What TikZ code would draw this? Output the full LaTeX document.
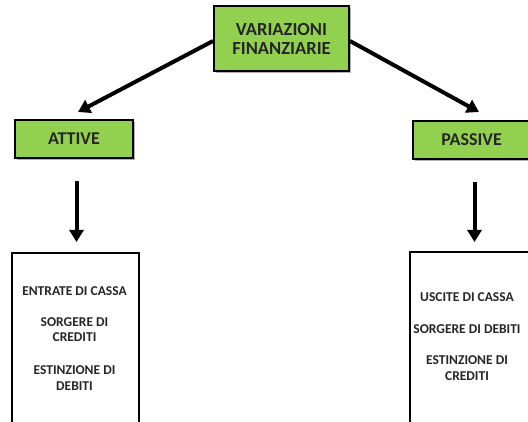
\documentclass[tikz,border=0pt]{standalone}
\usepackage{fontspec}
\setmainfont{Carlito}
\usetikzlibrary{arrows.meta}
\definecolor{boxgreen}{HTML}{92D050}
\tikzset{
  x=1pt, y=-1pt,
  greenbox/.style={draw=black, line width=2pt, fill=boxgreen, inner sep=0pt,
    font=\bfseries\fontsize{18}{21}\selectfont, align=center, text=black!85},
  listbox/.style={draw=black, line width=1.8pt, fill=white, inner sep=0pt},
  item/.style={font=\bfseries\fontsize{13.5}{15.5}\selectfont, align=center, text=black!85},
  arr/.style={line width=4pt, -{Triangle[length=12pt,width=14pt]}}
}
\begin{document}
\begin{tikzpicture}
\useasboundingbox (0,0) rectangle (528,422);
\begin{scope}
\clip (0,0) rectangle (528,422);
% top node
\fill[black!30] (216,8) rectangle (351,73);
\node[greenbox, minimum width=135pt, minimum height=65pt, font=\bfseries\fontsize{18.5}{19}\selectfont]
  (top) at (281.5,38.5) {VARIAZIONI\\FINANZIARIE};
% second row
\fill[black!30] (17,122) rectangle (135,160);
\node[greenbox, minimum width=118pt, minimum height=38pt]
  (att) at (74,139) {ATTIVE};
\fill[black!30] (415,123) rectangle (532,161);
\node[greenbox, minimum width=117pt, minimum height=38pt]
  (pas) at (471.5,140) {PASSIVE};
% lists
\node[listbox, minimum width=127pt, minimum height=200pt, anchor=north west] (la) at (11,252) {};
\node[listbox, minimum width=127pt, minimum height=200pt, anchor=north west] (lp) at (409,251) {};
\node[item] (a1) at (74.5,291) {ENTRATE DI CASSA};
\node[item] (a2) at (74.5,329.5) {SORGERE DI\\CREDITI};
\node[item] (a3) at (74.5,378) {ESTINZIONE DI\\DEBITI};
\node[item] (p1) at (467,297) {USCITE DI CASSA};
\node[item] (p2) at (467,329) {SORGERE DI DEBITI};
\node[item] (p3) at (467,368) {ESTINZIONE DI\\CREDITI};
% connectors
\coordinate (d1s) at (76.5,181);
\coordinate (d1e) at (76.5,242);
\coordinate (d2s) at (474.5,182);
\coordinate (d2e) at (474.5,242);
\draw[arr] (top.west |- 0,41) -- (78,112);
\draw[arr] (top.east |- 0,41) -- (479,112);
\draw[arr] (d1s) -- (d1e);
\draw[arr] (d2s) -- (d2e);
\end{scope}
\end{tikzpicture}
\end{document}
